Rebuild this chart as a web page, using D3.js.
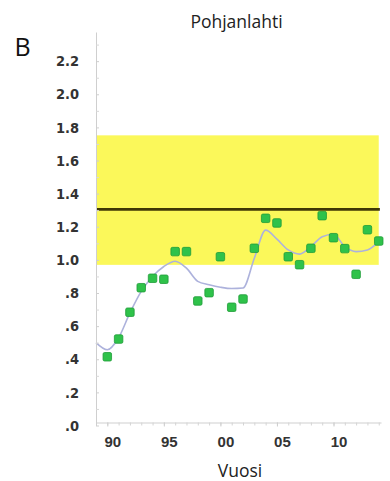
<!DOCTYPE html>
<html>
<head>
<meta charset="utf-8">
<script src="https://cdn.jsdelivr.net/npm/d3@7"></script>
<style>
  html, body { margin: 0; padding: 0; background: #fff; }
  svg { display: block; }
</style>
</head>
<body>
<svg id="chart" width="390" height="481"></svg>
<script>
// ---- data ----
const years = [1990,1991,1992,1993,1994,1995,1996,1997,1998,1999,2000,2001,2002,2003,2004,2005,2006,2007,2008,2009,2010,2011,2012,2013,2014];
const values = [0.415,0.522,0.684,0.832,0.889,0.883,1.050,1.050,0.752,0.802,1.019,0.714,0.764,1.070,1.251,1.223,1.019,0.971,1.070,1.267,1.134,1.068,0.913,1.182,1.114];
const smoothYears = [1989,1990,1991,1992,1993,1994,1995,1996,1997,1998,1999,2000,2001,2002,2003,2004,2005,2006,2007,2008,2009,2010,2011,2012,2013,2014];
const smoothValues = [0.500,0.457,0.530,0.680,0.810,0.900,0.960,0.992,0.950,0.870,0.850,0.835,0.827,0.830,1.010,1.180,1.125,1.060,1.035,1.080,1.140,1.155,1.080,1.050,1.060,1.110];
const bandRange = [0.97, 1.752];
const refLine = 1.305;
const xTickYears = [1990,1995,2000,2005,2010];
const xTickLabels = ["90","95","00","05","10"];
const yTickValues = [0,0.2,0.4,0.6,0.8,1.0,1.2,1.4,1.6,1.8,2.0,2.2];
const yTickLabels = [".0",".2",".4",".6",".8","1.0","1.2","1.4","1.6","1.8","2.0","2.2"];
const yMinorTicks = [0.1,0.3,0.5,0.7,0.9,1.1,1.3,1.5,1.7,1.9,2.1,2.3];
const title = "Pohjanlahti";
const xTitle = "Vuosi";
const panelLabel = "B";

// ---- layout ----
const svg = d3.select("#chart");
const x = d3.scaleLinear().domain([1989, 2014.2]).range([96, 381]);
const y = d3.scaleLinear().domain([0, 2.376]).range([425.5, 32]);

// band
svg.append("rect")
  .attr("x", x(1989)).attr("width", x(2014.0) - x(1989))
  .attr("y", y(bandRange[1])).attr("height", y(bandRange[0]) - y(bandRange[1]))
  .attr("fill", "#fbf85a");

// reference line
svg.append("line")
  .attr("x1", x(1989)).attr("x2", x(2014.1))
  .attr("y1", y(refLine)).attr("y2", y(refLine))
  .attr("stroke", "#3f3705").attr("stroke-width", 2.6);

// smooth line
svg.append("path")
  .datum(smoothYears.map((yr, i) => [yr, smoothValues[i]]))
  .attr("fill", "none")
  .attr("stroke", "#adb2dc")
  .attr("stroke-width", 1.6)
  .attr("d", d3.line().x(d => x(d[0])).y(d => y(d[1])).curve(d3.curveMonotoneX));

// points
const sz = 8.5;
svg.append("g").selectAll("rect")
  .data(years.map((yr, i) => [yr, values[i]]))
  .join("rect")
  .attr("x", d => x(d[0]) - sz / 2)
  .attr("y", d => y(d[1]) - sz / 2)
  .attr("width", sz).attr("height", sz)
  .attr("rx", 1.5)
  .attr("fill", "#2fc24a")
  .attr("stroke", "#1f9c38")
  .attr("stroke-width", 0.8);

// y axis
const yAxis = d3.axisLeft(y)
  .tickValues(yTickValues)
  .tickFormat((d, i) => yTickLabels[i])
  .tickSizeInner(-3).tickSizeOuter(0).tickPadding(17);
const gy = svg.append("g").attr("transform", `translate(${x(1989)},0)`).call(yAxis);
gy.select(".domain").attr("stroke", "#cfcfcf");
gy.selectAll(".tick line").attr("stroke", "#cfcfcf");
gy.selectAll("text")
  .attr("font-family", "'Liberation Sans Narrow', 'DejaVu Sans Condensed', 'Liberation Sans', sans-serif")
  .attr("font-size", 14.5).attr("font-weight", "bold").attr("fill", "#333");
const gyMinor = svg.append("g").attr("transform", `translate(${x(1989)},0)`)
  .call(d3.axisLeft(y).tickValues(yMinorTicks).tickFormat("").tickSizeInner(-3).tickSizeOuter(0));
gyMinor.select(".domain").remove();
gyMinor.selectAll(".tick line").attr("stroke", "#d8d8d8");

// x axis
const xAxisY = 422.5;
const gxMinor = svg.append("g").attr("transform", `translate(0,${xAxisY})`)
  .call(d3.axisBottom(x).tickValues(years).tickFormat("").tickSizeInner(3).tickSizeOuter(0));
gxMinor.select(".domain").attr("stroke", "#cfcfcf");
gxMinor.selectAll(".tick line").attr("stroke", "#d4d4d4");
const gx = svg.append("g").attr("transform", `translate(0,${xAxisY})`)
  .call(d3.axisBottom(x).tickValues(xTickYears)
    .tickFormat((d, i) => xTickLabels[i]).tickSizeInner(4).tickSizeOuter(0).tickPadding(10));
gx.select(".domain").remove();
gx.selectAll(".tick line").attr("stroke", "#cfcfcf");
gx.selectAll("text")
  .attr("dx", 5)
  .attr("font-family", "'Liberation Sans', Arial, sans-serif")
  .attr("font-size", 15).attr("font-weight", "bold").attr("fill", "#333");

// titles
svg.append("text").attr("x", 236.5).attr("y", 28).attr("text-anchor", "middle")
  .attr("font-family", "'Open Sans', sans-serif").attr("font-size", 17.5).attr("fill", "#222")
  .text(title);
svg.append("text").attr("x", 240).attr("y", 477).attr("text-anchor", "middle")
  .attr("font-family", "'Open Sans', sans-serif").attr("font-size", 17.5).attr("fill", "#222")
  .text(xTitle);
svg.append("text").attr("x", 22.5).attr("y", 56).attr("text-anchor", "middle")
  .attr("font-family", "'Open Sans', sans-serif").attr("font-size", 25).attr("fill", "#111")
  .text(panelLabel);
</script>
</body>
</html>
